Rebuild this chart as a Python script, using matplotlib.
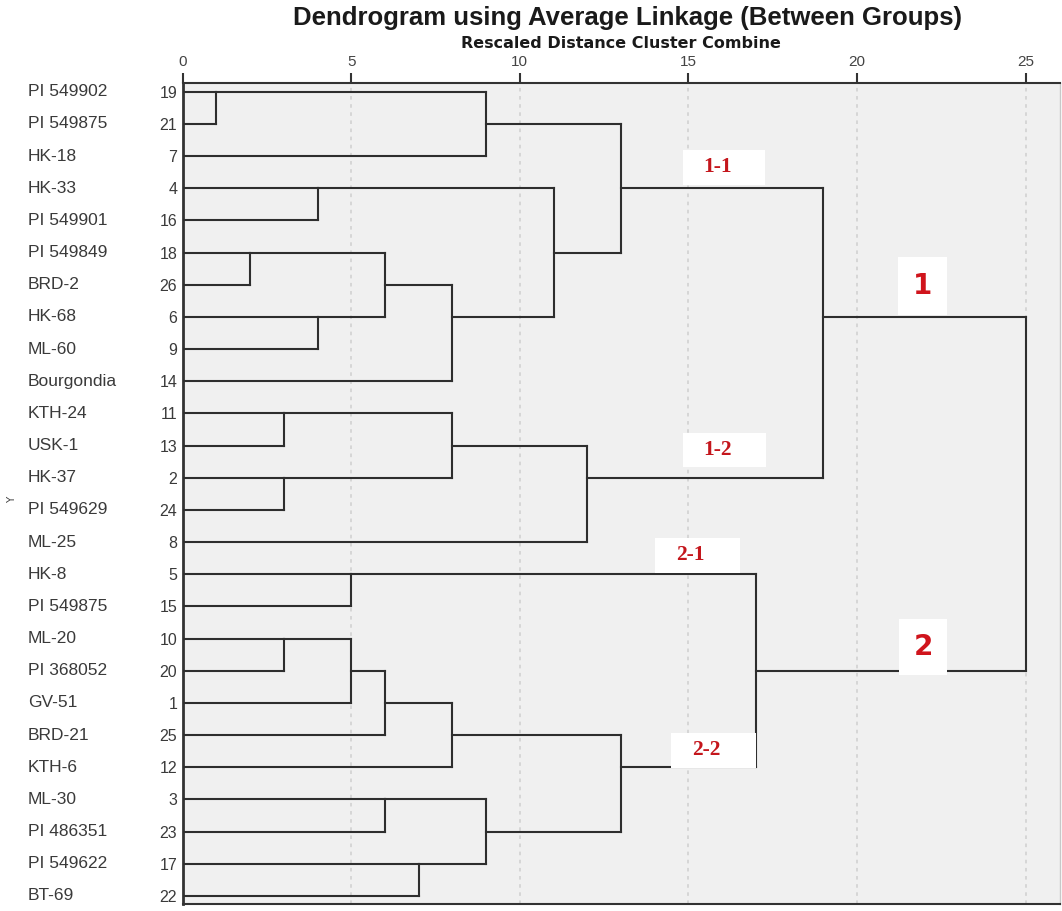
import matplotlib.pyplot as plt
from matplotlib.patches import Rectangle
from matplotlib.transforms import blended_transform_factory

# leaves, top to bottom
leaf_ids = [19, 21, 7, 4, 16, 18, 26, 6, 9, 14, 11, 13, 2, 24, 8,
            5, 15, 10, 20, 1, 25, 12, 3, 23, 17, 22]
leaf_names = ['PI 549902', 'PI 549875', 'HK-18', 'HK-33', 'PI 549901',
              'PI 549849', 'BRD-2', 'HK-68', 'ML-60', 'Bourgondia',
              'KTH-24', 'USK-1', 'HK-37', 'PI 549629', 'ML-25',
              'HK-8', 'PI 549875', 'ML-20', 'PI 368052', 'GV-51',
              'BRD-21', 'KTH-6', 'ML-30', 'PI 486351', 'PI 549622', 'BT-69']

# agglomeration schedule (cluster holding leaf a joins cluster holding leaf b)
merge_a = [19, 18, 11, 2, 10, 4, 6, 5, 10, 18, 10, 3, 17,
           18, 11, 10, 19, 3, 4, 11, 19, 10, 5, 19, 19]
merge_b = [21, 26, 13, 24, 20, 16, 9, 15, 1, 6, 25, 23, 22,
           14, 2, 12, 7, 17, 18, 8, 4, 3, 10, 11, 5]
merge_dist = [1, 2, 3, 3, 3, 4, 4, 5, 5, 6, 6, 6, 7,
              8, 8, 8, 9, 9, 11, 12, 13, 13, 17, 19, 25]

x_ticks = [0, 5, 10, 15, 20, 25]
cluster_labels = ['1-1', '1', '1-2', '2-1', '2-2', '2']

W, H = 1062, 911
fig = plt.figure(figsize=(W / 100, H / 100), dpi=100)
ax = fig.add_axes([182.7 / W, 1 - 904 / H, (1060 - 182.7) / W, (904 - 83) / H])
ax.set_facecolor('#f0f0f0')
ax.set_xlim(0, 26.02)
ax.set_ylim(25.25, -0.27)

# tree
line_kw = dict(color='#2e2e2e', lw=1.5, zorder=3, solid_capstyle='projecting')
row = {leaf: i for i, leaf in enumerate(leaf_ids)}
cl_of = {leaf: leaf for leaf in leaf_ids}
pos = {leaf: row[leaf] for leaf in leaf_ids}
hgt = {leaf: 0 for leaf in leaf_ids}
for a, b, d in zip(merge_a, merge_b, merge_dist):
    ca, cb = cl_of[a], cl_of[b]
    for c in (ca, cb):
        ax.plot([hgt[c], d], [pos[c], pos[c]], **line_kw)
    ax.plot([d, d], [pos[ca], pos[cb]], **line_kw)
    new_pos = (pos[ca] + pos[cb]) // 2
    for leaf, c in list(cl_of.items()):
        if c == cb:
            cl_of[leaf] = ca
    pos[ca], hgt[ca] = new_pos, d

# axes styling
ax.xaxis.tick_top()
ax.set_xticks(x_ticks)
ax.set_xticklabels([str(t) for t in x_ticks], fontsize=11, color='#444444',
                   family='Liberation Sans')
ax.tick_params(axis='x', direction='out', length=7, width=1.5, pad=3, color='#333333')
ax.xaxis.grid(True, color='#d4d4d4', lw=1.3, ls=(0, (2, 2.5)), zorder=1)
ax.set_axisbelow(True)

ax.set_yticks(range(len(leaf_ids)))
ax.set_yticklabels([str(i) for i in leaf_ids], fontsize=11.5, color='#3a3a3a',
                   family='Liberation Sans')
ax.tick_params(axis='y', length=0, pad=4)

ax.spines['left'].set_linewidth(2)
ax.spines['left'].set_color('#333333')
ax.spines['top'].set_linewidth(1.5)
ax.spines['top'].set_color('#333333')
ax.spines['bottom'].set_linewidth(1.5)
ax.spines['bottom'].set_color('#333333')
ax.spines['right'].set_linewidth(1)
ax.spines['right'].set_color('#c8c8c8')

tr = blended_transform_factory(fig.transFigure, ax.transData)
for i, name in enumerate(leaf_names):
    ax.text(28 / W, i, name, transform=tr, ha='left', va='center',
            fontsize=12.5, color='#3a3a3a', family='Liberation Sans')

fig.text(12 / W, 1 - 500 / H, 'Y', rotation=90, ha='center', va='center',
         fontsize=7.5, color='#444444')
fig.text(627 / W, 1 - 18 / H, 'Dendrogram using Average Linkage (Between Groups)',
         ha='center', va='center', fontsize=18.5, weight='bold', color='#1a1a1a',
         family='Liberation Sans')
fig.text(621 / W, 1 - 43 / H, 'Rescaled Distance Cluster Combine',
         ha='center', va='center', fontsize=11.5, weight='bold', color='#1a1a1a',
         family='DejaVu Sans')

# cluster tags on white boxes (x0, x1, y0, y1 in axis units)
boxes = [(14.83, 17.28, 1.81, 2.90), (21.21, 22.67, 5.14, 6.94),
         (14.83, 17.30, 10.60, 11.66), (14.00, 16.53, 13.87, 14.96),
         (14.48, 17.00, 19.93, 21.02), (21.24, 22.67, 16.39, 18.13)]
for lab, (x0, x1, y0, y1) in zip(cluster_labels, boxes):
    ax.add_patch(Rectangle((x0, y0), x1 - x0, y1 - y0, facecolor='white',
                           edgecolor='none', zorder=4))
    if '-' in lab:
        ax.text((x0 + x1) / 2 - 0.2, (y0 + y1) / 2, lab, ha='center', va='center',
                fontsize=15.5, weight='bold', color='#c4161c',
                family='Liberation Serif', zorder=5)
    else:
        ax.text((x0 + x1) / 2, (y0 + y1) / 2, lab, ha='center', va='center',
                fontsize=20, weight='bold', color='#d0141c',
                family='DejaVu Sans', zorder=5)

fig.savefig('out.png', dpi=100)
